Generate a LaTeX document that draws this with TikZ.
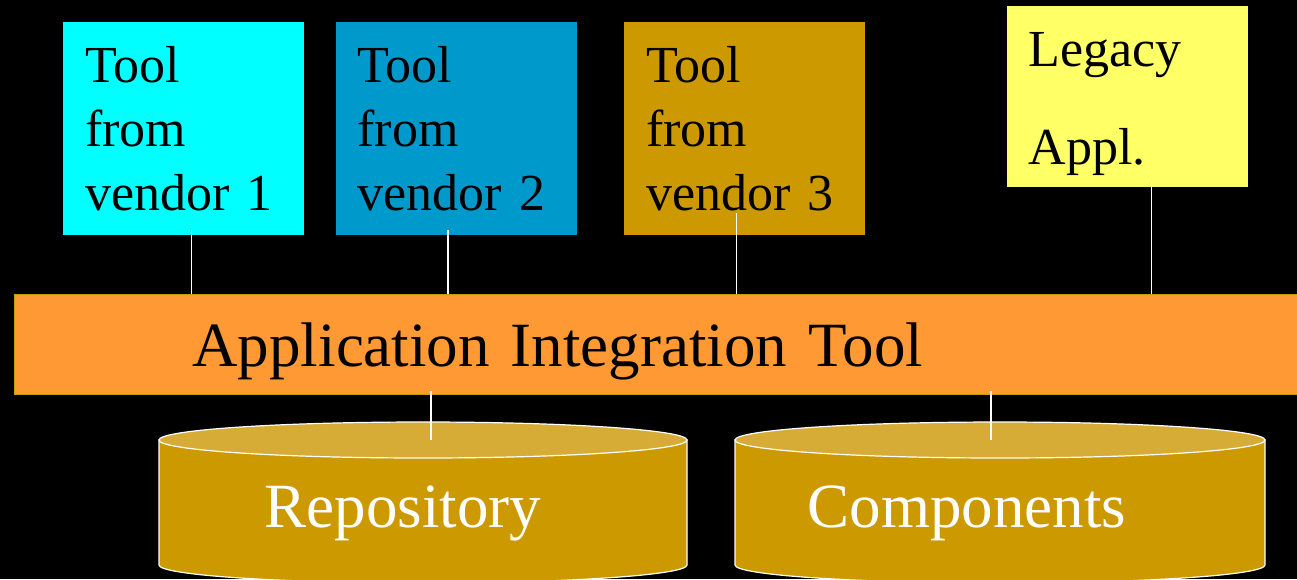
\documentclass[tikz,border=0pt]{standalone}
\usepackage{fontspec}
\setmainfont{Liberation Serif}
\definecolor{toolcyan}{RGB}{0,255,255}
\definecolor{toolblue}{RGB}{0,153,204}
\definecolor{toolgold}{RGB}{204,153,0}
\definecolor{legacyyellow}{RGB}{255,255,102}
\definecolor{barorange}{RGB}{255,153,51}
\definecolor{dbtop}{RGB}{214,172,54}
\usetikzlibrary{
  calc,
  positioning,
}
\tikzset{
  toolbox/.style={rectangle,anchor=north west,minimum width=241,minimum height=213,
    inner xsep=22,inner ysep=0,text width=197,align=left,font=\fontsize{52}{64}\selectfont},
  link/.style={draw=white,line width=1.5},
  dbase/.style={fill=toolgold,draw=white,line width=1.2},
  dbend/.style={fill=dbtop,draw=white,line width=1.2},
  dbtext/.style={anchor=base west,text=white,font=\fontsize{63}{63}\selectfont},
}

\begin{document}
\begin{tikzpicture}[x=1pt,y=-1pt,node distance=0 and 31]
      \useasboundingbox (0,0) rectangle (1297,579);
      \fill[black] (0,0) rectangle (1297,579);

      \node[toolbox,fill=toolcyan]    (v1)  at (63,22)   {Tool\\from\\vendor 1};
      \node[toolbox,fill=toolblue]    (v2)  [right=of v1] {Tool\\from\\vendor 2};
      \node[toolbox,fill=toolgold]    (v3)  [right=47 of v2] {Tool\\from\\vendor 3};
      \node[toolbox,fill=legacyyellow,minimum height=181,inner xsep=21,text width=198,
            font=\fontsize{52}{98}\selectfont]
            (legacy) at (1007,6) {\rule{0pt}{48pt}Legacy\\Appl.};

      \node[rectangle,anchor=north west,fill=barorange,draw=toolgold,line width=1,
            minimum width=1310,minimum height=100,inner xsep=178,text width=954,align=left,
            text height=43,text depth=0,font=\fontsize{63}{63}\selectfont]
            (ait) at (14,294) {Application Integration Tool};

      % repository and components drums
      \path[dbase] (159,440) -- (159,565) arc[start angle=180,end angle=0,x radius=264,y radius=18]
                   -- (687,440) -- cycle;
      \path[dbend] (423,440) ellipse[x radius=264,y radius=18];
      \coordinate (repo) at (423,440);
      \path[dbase] (735,440) -- (735,565) arc[start angle=180,end angle=0,x radius=265,y radius=18]
                   -- (1265,440) -- cycle;
      \path[dbend] (1000,440) ellipse[x radius=265,y radius=18];
      \coordinate (comp) at (1000,440);
      \node[dbtext] (repotext) at (261,527) {Repository};
      \node[dbtext] (comptext) at (804,527) {Components};

      \draw[link] ($(v1.south)+(8,-5)$) -- ($(v1.south |- ait.north)+(8,0)$);
      \draw[link] ($(v2.south)+(-8,-5)$) -- ($(v2.south |- ait.north)+(-8,0)$);
      \draw[link] ($(v3.south)+(-8,-22)$) -- ($(v3.south |- ait.north)+(-8,0)$);
      \draw[link] ($(legacy.south)+(24,-5)$) -- ($(legacy.south |- ait.north)+(24,0)$);
      \draw[link] ($(ait.south -| repo)+(8,-4)$) -- ($(repo)+(8,0)$);
      \draw[link] ($(ait.south -| comp)+(-9,-4)$) -- ($(comp)+(-9,0)$);
    \end{tikzpicture}
\end{document}
